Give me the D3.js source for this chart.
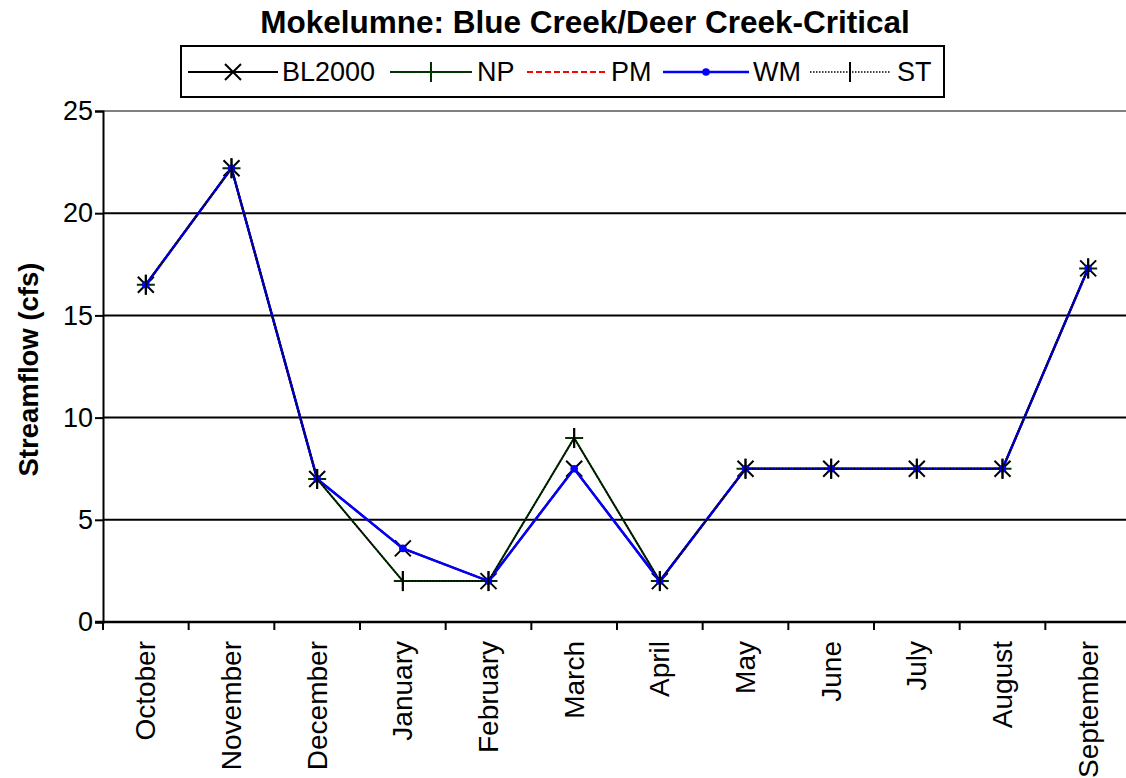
<!DOCTYPE html>
<html><head><meta charset="utf-8">
<script src="https://cdn.jsdelivr.net/npm/d3@7"></script>
<style>
html,body{margin:0;padding:0;background:#fff;}
svg{display:block;font-family:"Liberation Sans",Arial,sans-serif;}
</style></head>
<body>
<svg id="chart" width="1126" height="778"></svg>
<script>
const months = ["October","November","December","January","February","March","April","May","June","July","August","September"];
const BL2000 = [16.5, 22.2, 7.0, 3.6, 2.0, 7.5, 2.0, 7.5, 7.5, 7.5, 7.5, 17.3];
const NP     = [16.5, 22.2, 7.0, 2.0, 2.0, 9.0, 2.0, 7.5, 7.5, 7.5, 7.5, 17.3];
const PM     = [16.5, 22.2, 7.0, 3.6, 2.0, 7.5, 2.0, 7.5, 7.5, 7.5, 7.5, 17.3];
const WM     = [16.5, 22.2, 7.0, 3.6, 2.0, 7.5, 2.0, 7.5, 7.5, 7.5, 7.5, 17.3];
const ST     = [16.5, 22.2, 7.0, 2.0, 2.0, 9.0, 2.0, 7.5, 7.5, 7.5, 7.5, 17.3];
const yTicks = [0, 5, 10, 15, 20, 25];
const title = "Mokelumne: Blue Creek/Deer Creek-Critical";
const yTitle = "Streamflow (cfs)";

const series = [
  {name:"BL2000", values:BL2000, color:"#000000", width:2, dash:null, marker:"x"},
  {name:"NP", values:NP, color:"#003300", width:2, dash:null, marker:"plus"},
  {name:"PM", values:PM, color:"#ff0000", width:2, dash:"6,3", marker:"none"},
  {name:"WM", values:WM, color:"#0000ff", width:2.5, dash:null, marker:"dot"},
  {name:"ST", values:ST, color:"#000000", width:1.5, dash:"1.5,1.5", marker:"vbar"}
];

const svg = d3.select("#chart");
const L = 103, R = 1131, T = 111, B = 622;
const x = d3.scaleBand().domain(months).range([L, R]);
const y = d3.scaleLinear().domain([0, 25]).range([B, T]);
const cx = m => x(m) + x.bandwidth()/2;

// title
svg.append("text").attr("x", 585).attr("y", 33).attr("text-anchor","middle")
  .attr("font-size", 31.5).attr("font-weight","bold").text(title);

// gridlines
svg.append("g").selectAll("line").data(yTicks.filter(v => v > 0 && v < 25)).join("line")
  .attr("x1", L).attr("x2", R).attr("y1", d => y(d)).attr("y2", d => y(d))
  .attr("stroke", "#000").attr("stroke-width", 2);
// top border of plot area
svg.append("line").attr("x1", L).attr("x2", R).attr("y1", y(25)).attr("y2", y(25))
  .attr("stroke", "#808080").attr("stroke-width", 2);

// y axis
const yAxis = d3.axisLeft(y).tickValues(yTicks).tickSize(8).tickPadding(2).tickFormat(d3.format("d"));
const gy = svg.append("g").attr("transform", `translate(${L},0)`).call(yAxis);
gy.select(".domain").attr("stroke", "#000").attr("stroke-width", 2);
gy.selectAll(".tick line").attr("stroke", "#000").attr("stroke-width", 2);
gy.selectAll(".tick text").attr("font-size", 27).attr("fill", "#000")
  .attr("font-family", "Liberation Sans, Arial, sans-serif");

// x axis
svg.append("line").attr("x1", L - 8).attr("x2", R).attr("y1", B).attr("y2", B)
  .attr("stroke", "#000").attr("stroke-width", 2.5);
const edges = months.map(m => x(m)).concat([x(months[months.length-1]) + x.bandwidth()]);
svg.append("g").selectAll("line").data(edges).join("line")
  .attr("x1", d => d).attr("x2", d => d).attr("y1", B).attr("y2", B + 8)
  .attr("stroke", "#000").attr("stroke-width", 2);
svg.append("g").selectAll("text").data(months).join("text")
  .attr("transform", d => `translate(${cx(d)},641) rotate(-90)`)
  .attr("text-anchor", "end").attr("dominant-baseline", "central")
  .attr("font-size", 28).attr("fill", "#000").text(d => d);

// y title
svg.append("text").attr("transform", `translate(28,${(T+B)/2+3}) rotate(-90)`)
  .attr("text-anchor","middle").attr("dominant-baseline","central")
  .attr("font-size", 27.5).attr("font-weight","bold").text(yTitle);

// marker drawing
function drawMarker(g, type, px, py, color) {
  if (type === "x") {
    g.append("path").attr("d", `M${px-8},${py-8}L${px+8},${py+8}M${px-8},${py+8}L${px+8},${py-8}`)
      .attr("stroke", "#000").attr("stroke-width", 2).attr("fill","none");
  } else if (type === "plus") {
    g.append("path").attr("d", `M${px-9},${py}L${px+9},${py}M${px},${py-10}L${px},${py+10}`)
      .attr("stroke", color).attr("stroke-width", 2).attr("fill","none");
  } else if (type === "dot") {
    g.append("circle").attr("cx", px).attr("cy", py).attr("r", 3.8).attr("fill", color);
  } else if (type === "vbar") {
    g.append("path").attr("d", `M${px},${py-10}L${px},${py+10}`)
      .attr("stroke", "#000").attr("stroke-width", 2).attr("fill","none");
  }
}

const line = d3.line().x(d => cx(d.m)).y(d => y(d.v));
series.forEach(s => {
  const pts = months.map((m,i) => ({m, v:s.values[i]}));
  const g = svg.append("g");
  g.append("path").datum(pts).attr("d", line).attr("fill","none")
    .attr("stroke", s.color).attr("stroke-width", s.width)
    .attr("stroke-dasharray", s.dash);
  pts.forEach(p => drawMarker(g, s.marker, cx(p.m), y(p.v), s.color));
});

// legend
svg.append("rect").attr("x", 181).attr("y", 46).attr("width", 763).attr("height", 51)
  .attr("fill", "#fff").attr("stroke", "#000").attr("stroke-width", 2);
const legItems = [
  {s:series[0], x0:188, x1:278, tx:282},
  {s:series[1], x0:390, x1:472, tx:477},
  {s:series[2], x0:527, x1:606, tx:611},
  {s:series[3], x0:663, x1:749, tx:753},
  {s:series[4], x0:810, x1:890, tx:897}
];
const ly = 72;
legItems.forEach(it => {
  const g = svg.append("g");
  g.append("line").attr("x1", it.x0).attr("x2", it.x1).attr("y1", ly).attr("y2", ly)
    .attr("stroke", it.s.color).attr("stroke-width", it.s.width)
    .attr("stroke-dasharray", it.s.dash);
  drawMarker(g, it.s.marker, (it.x0 + it.x1)/2, ly, it.s.color);
  g.append("text").attr("x", it.tx).attr("y", ly).attr("dominant-baseline","central")
    .attr("font-size", 27).attr("fill","#000").text(it.s.name);
});
</script>
</body></html>
